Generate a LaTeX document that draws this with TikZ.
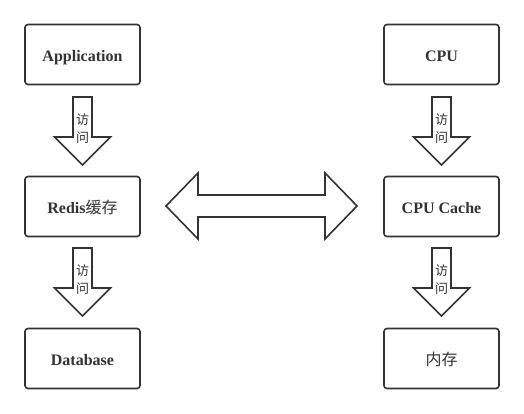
\documentclass[tikz,border=0pt]{standalone}
\usepackage{fontspec}
\setmainfont{Liberation Serif}
\newfontfamily\cjk{Noto Sans CJK SC}
\definecolor{ink}{HTML}{333333}
\begin{document}
\begin{tikzpicture}[x=1pt,y=-1pt,
  box/.style={draw=ink,line width=1.6pt,rounded corners=3pt,minimum width=115pt,minimum height=60pt,inner sep=0pt,text height=14pt,text depth=0pt,text=ink,font=\fontsize{16}{18}\selectfont\bfseries},
  blockarrow/.style={draw=ink,line width=1.6pt,fill=white,line join=miter},
  lbl/.style={text=ink,font=\fontsize{13}{18}\selectfont\cjk,align=center,inner sep=0pt}]
\useasboundingbox (0,0) rectangle (524,414);
% left column
\node[box] (app) at (82.5,54.5) {Application};
\node[box] (redis) at (82.5,206.5) {Redis{\cjk\mdseries 缓存}};
\node[box] (db) at (82.5,358.5) {Database};
% right column
\node[box] (cpu) at (441.5,54.5) {CPU};
\node[box] (cache) at (441.5,206.5) {CPU Cache};
\node[box,font=\fontsize{16}{18}\selectfont\cjk] (mem) at (441.5,358.5) {内存};
% down arrows
\foreach \cx/\ty/\hy [count=\i] in {82.5/97/137, 82.5/248/288, 441.5/97/137, 441.5/248/288}{
  \draw[blockarrow] (\cx-9.5,\ty) -- (\cx+9.5,\ty) -- (\cx+9.5,\hy) -- (\cx+28,\hy) -- (\cx,\hy+28) -- (\cx-28,\hy) -- (\cx-9.5,\hy) -- cycle;
  \node[lbl] (v\i) at (\cx,\ty+32) {访\\问};
}
% double arrow
\draw[blockarrow] (166,206) -- (198,173) -- (198,195) -- (325,195) -- (325,173) -- (357,206) -- (325,239) -- (325,217) -- (198,217) -- (198,239) -- cycle;
\end{tikzpicture}
\end{document}
